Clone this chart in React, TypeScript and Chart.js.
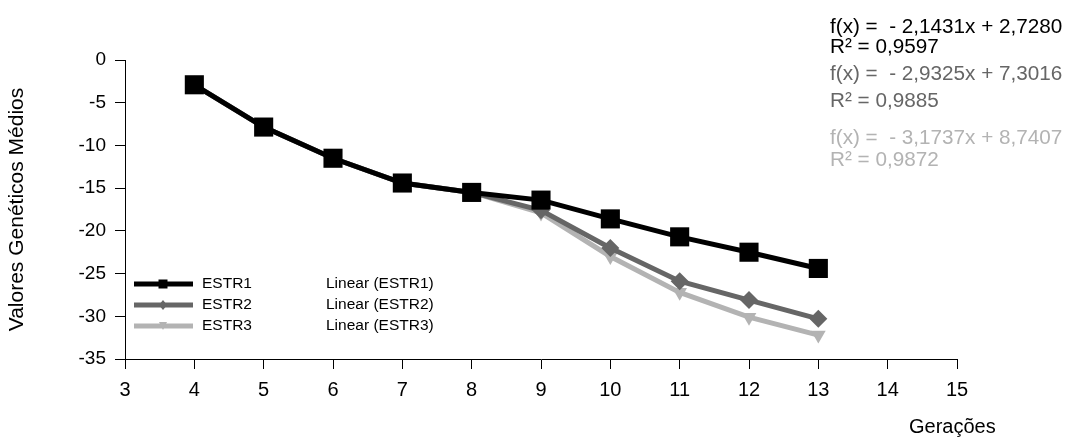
import React, { useEffect, useRef } from 'react';
import { Chart, registerables } from 'chart.js';

Chart.register(...registerables);

const generations = [4, 5, 6, 7, 8, 9, 10, 11, 12, 13];
const estr1 = [-2.9, -7.85, -11.5, -14.4, -15.5, -16.4, -18.6, -20.7, -22.5, -24.4];
const estr2 = [-2.9, -7.85, -11.5, -14.4, -15.5, -17.6, -22.0, -25.9, -28.1, -30.3];
const estr3 = [-2.9, -7.85, -11.5, -14.4, -15.5, -17.9, -23.0, -27.2, -30.1, -32.2];
const seriesNames = ['ESTR1', 'ESTR2', 'ESTR3'];
const trendNames = ['Linear (ESTR1)', 'Linear (ESTR2)', 'Linear (ESTR3)'];
const trendEquations = ['f(x) =  - 2,1431x + 2,7280', 'f(x) =  - 2,9325x + 7,3016', 'f(x) =  - 3,1737x + 8,7407'];
const trendR2 = ['R² = 0,9597', 'R² = 0,9885', 'R² = 0,9872'];
const xAxisTitle = 'Gerações';
const yAxisTitle = 'Valores Genéticos Médios';

const FONT = '"Liberation Sans", Arial, sans-serif';
const colors = ['#000000', '#666666', '#b3b3b3'];
const pointStyles = ['rect', 'rectRot', 'triangle'];
const pointRadii = [13.5, 9, 8.5];
const pointRotations = [0, 0, 180];

const overlayPlugin = {
  id: 'overlay',
  afterDraw(chart: any) {
    const ctx = chart.ctx as CanvasRenderingContext2D;
    ctx.save();
    // trend equations
    ctx.textAlign = 'left';
    ctx.textBaseline = 'middle';
    ctx.font = `20.7px ${FONT}`;
    const eqY = [[27, 47], [74, 101], [138, 160]];
    for (let i = 0; i < 3; i++) {
      ctx.fillStyle = colors[i];
      ctx.fillText(trendEquations[i], 830, eqY[i][0]);
      ctx.fillText(trendR2[i], 830, eqY[i][1]);
    }
    // x title
    ctx.fillStyle = '#000';
    ctx.font = `20px ${FONT}`;
    ctx.fillText(xAxisTitle, 909, 427);
    // legend
    ctx.font = `15.5px ${FONT}`;
    const rowY = [284, 305, 326];
    for (let i = 0; i < 3; i++) {
      const y = rowY[i];
      ctx.strokeStyle = colors[i];
      ctx.lineWidth = 5;
      ctx.beginPath();
      ctx.moveTo(134, y);
      ctx.lineTo(193, y);
      ctx.stroke();
      ctx.fillStyle = colors[i];
      ctx.beginPath();
      const cx = 163;
      if (i === 0) {
        ctx.rect(cx - 4.5, y - 4.5, 9, 9);
      } else if (i === 1) {
        ctx.moveTo(cx, y - 5);
        ctx.lineTo(cx + 4, y);
        ctx.lineTo(cx, y + 5);
        ctx.lineTo(cx - 4, y);
        ctx.closePath();
      } else {
        ctx.moveTo(cx - 4, y - 4);
        ctx.lineTo(cx + 4, y - 4);
        ctx.lineTo(cx, y + 4);
        ctx.closePath();
      }
      ctx.fill();
      ctx.fillStyle = '#000';
      ctx.fillText(seriesNames[i], 202, y);
      ctx.fillText(trendNames[i], 326, y);
    }
    ctx.restore();
  },
};

export default function App() {
  const canvasRef = useRef<HTMLCanvasElement>(null);

  useEffect(() => {
    if (!canvasRef.current) return;
    const series = [estr1, estr2, estr3];
    const chart = new Chart(canvasRef.current, {
      type: 'line',
      data: {
        datasets: series.map((vals, i) => ({
          label: seriesNames[i],
          data: generations.map((g, j) => ({ x: g, y: vals[j] })),
          borderColor: colors[i],
          backgroundColor: colors[i],
          borderWidth: 5,
          pointStyle: pointStyles[i] as any,
          pointRadius: pointRadii[i],
          pointRotation: pointRotations[i],
          pointBorderWidth: 0,
          pointBackgroundColor: colors[i],
          tension: 0,
          fill: false,
        })),
      },
      options: {
        animation: false,
        responsive: true,
        maintainAspectRatio: false,
        layout: { padding: { left: 0, top: 60, right: 112, bottom: 0 } },
        plugins: { legend: { display: false }, tooltip: { enabled: false } },
        scales: {
          x: {
            type: 'linear',
            min: 3,
            max: 15,
            afterFit: (s: any) => { s.height = 79; },
            ticks: { stepSize: 1, color: '#000', font: { size: 20, family: FONT }, padding: 9, maxRotation: 0 },
            grid: { drawOnChartArea: false, drawTicks: true, tickLength: 10, color: '#000' },
            border: { display: true, color: '#000', width: 1 },
          },
          y: {
            type: 'linear',
            min: -35,
            max: 0,
            afterFit: (s: any) => { s.width = 125; },
            ticks: { stepSize: 5, color: '#000', font: { size: 19, family: FONT }, padding: 9 },
            grid: { drawOnChartArea: false, drawTicks: true, tickLength: 10, color: '#000' },
            border: { display: true, color: '#000', width: 1 },
            title: { display: true, text: yAxisTitle, color: '#000', font: { size: 21, family: FONT }, padding: { top: 5, bottom: 0 } },
          },
        },
      },
      plugins: [overlayPlugin],
    });
    return () => chart.destroy();
  }, []);

  return (
    <div style={{ position: 'fixed', left: 0, top: 0, width: 1069, height: 438, background: '#fff' }}>
      <canvas ref={canvasRef} />
    </div>
  );
}
